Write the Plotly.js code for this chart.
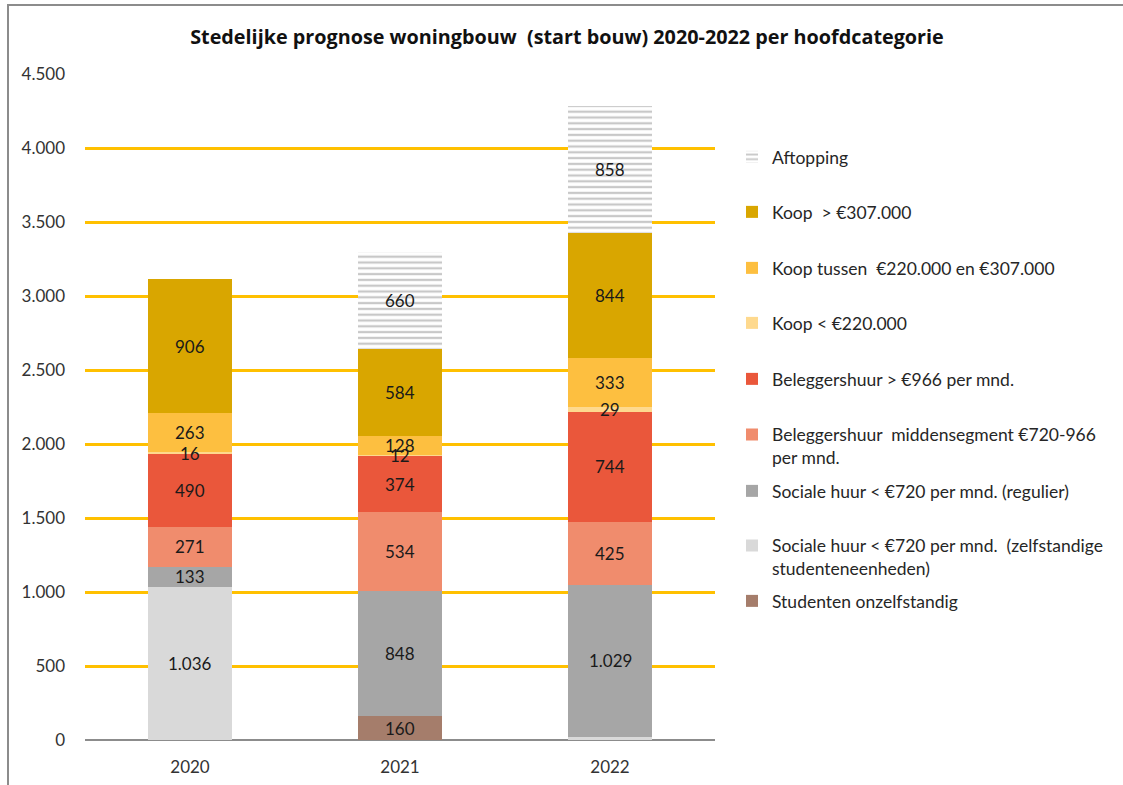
<!DOCTYPE html>
<html><head><meta charset="utf-8">
<script src="https://cdn.plot.ly/plotly-3.0.1.min.js"></script>
<style>html,body{margin:0;padding:0;background:#fff}#chart{width:1123px;height:785px}</style>
</head><body><div id="chart"></div>
<script>
// ---- data ----
const years = ['2020', '2021', '2022'];
const studentenOnzelfstandig = [0, 160, 0];
const socialeStudenten = [1036, 0, 20];
const socialeRegulier = [133, 848, 1029];
const beleggersMidden = [271, 534, 425];
const beleggersHoog = [490, 374, 744];
const koopLaag = [16, 12, 29];
const koopMidden = [263, 128, 333];
const koopHoog = [906, 584, 844];
const aftopping = [0, 660, 858];
const yTicks = [0, 500, 1000, 1500, 2000, 2500, 3000, 3500, 4000, 4500];

const names = [
  'Studenten onzelfstandig',
  'Sociale huur < €720 per mnd.  (zelfstandige<br>studenteneenheden)',
  'Sociale huur < €720 per mnd. (regulier)',
  'Beleggershuur  middensegment €720-966<br>per mnd.',
  'Beleggershuur > €966 per mnd.',
  'Koop < €220.000',
  'Koop tussen  €220.000 en €307.000',
  'Koop  > €307.000',
  'Aftopping'
];
const values = [studentenOnzelfstandig, socialeStudenten, socialeRegulier, beleggersMidden,
  beleggersHoog, koopLaag, koopMidden, koopHoog, aftopping];
const colors = ['#A57D6B', '#D9D9D9', '#A6A6A6', '#F08C6D', '#EA573B', '#FED98E', '#FDBF40', '#D9A600', '#FFFFFF'];
// labels not printed in the reference (index of series, index of year)
const unlabeled = [[1, 2]];

// legend text centre (first line) in pixels, for layout only
const legendPx = [601, 546, 491, 435, 379, 323, 268, 212, 157];

const fmt = v => String(v).replace(/\B(?=(\d{3})+(?!\d))/g, '.');
const plotTop = 74, plotBottom = 740, plotLeft = 85, plotRight = 715;
const pH = plotBottom - plotTop, pW = plotRight - plotLeft;
const FONT = 'Lato, "Open Sans", sans-serif';

const traces = values.map((vals, i) => {
  const t = {
    type: 'bar',
    name: names[i],
    x: years,
    y: vals,
    marker: {color: colors[i], line: {width: 0}},
    hoverinfo: 'x+y+name',
    legend: i === 0 ? 'legend' : 'legend' + (i + 1)
  };
  if (names[i] === 'Aftopping') {
    t.marker.pattern = {shape: '-', fgcolor: '#929292', bgcolor: '#FFFFFF', size: 5.8, solidity: 0.4, fillmode: 'overlay'};
  }
  return t;
});

// value labels above all bars (centre of each stacked segment); x = category index
const base = years.map(() => 0);
const annotations = [];
values.forEach((vals, i) => {
  vals.forEach((v, j) => {
    if (v > 0 && !unlabeled.some(u => u[0] === i && u[1] === j)) {
      annotations.push({
        x: j, y: base[j] + v / 2, xref: 'x', yref: 'y', text: fmt(v),
        showarrow: false, xanchor: 'center', yanchor: 'middle',
        font: {family: FONT, size: 17, color: '#1a1a1a'}
      });
    }
    base[j] += v;
  });
});

const layout = {
  width: 1123, height: 785,
  margin: {l: plotLeft, r: 1123 - plotRight, t: plotTop, b: 785 - plotBottom},
  paper_bgcolor: '#fff', plot_bgcolor: '#fff',
  separators: ',.',
  barmode: 'stack',
  bargap: 0.6,
  font: {family: FONT, size: 16, color: '#333'},
  title: {
    text: '<b>Stedelijke prognose woningbouw \u00a0(start bouw) 2020-2022 per hoofdcategorie</b>',
    font: {family: '"Open Sans", sans-serif', size: 19.8, color: '#111'},
    x: 567 / 1123, xanchor: 'center', xref: 'container',
    y: 1 - 37 / 785, yanchor: 'middle', yref: 'container'
  },
  xaxis: {
    type: 'category', showgrid: false, zeroline: false, showline: false,
    ticks: '', tickfont: {family: FONT, size: 17, color: '#333'}, ticklabelstandoff: 15
  },
  yaxis: {
    range: [0, 4500], tickvals: yTicks, tickformat: ',', showgrid: true,
    gridcolor: '#FFC000', gridwidth: 3, zeroline: true, zerolinecolor: '#8C8C8C', zerolinewidth: 2,
    showline: false, ticks: '', tickfont: {family: FONT, size: 17, color: '#333'}, ticklabelstandoff: 19
  },
  showlegend: true,
  annotations: annotations,
  shapes: [{
    type: 'rect', xref: 'paper', yref: 'paper',
    x0: (8 - plotLeft) / pW, x1: (1130 - plotLeft) / pW,
    y0: (plotBottom - 790) / pH, y1: (plotBottom - 5) / pH,
    line: {color: '#8C8C8C', width: 2}, fillcolor: 'rgba(0,0,0,0)', layer: 'below'
  }]
};

legendPx.forEach((px, i) => {
  const key = i === 0 ? 'legend' : 'legend' + (i + 1);
  const twoLine = names[i].indexOf('<br>') >= 0;
  layout[key] = {
    x: (732 - plotLeft) / pW, xanchor: 'left', xref: 'paper',
    y: (plotBottom - (twoLine ? px + 11 : px)) / pH, yanchor: 'middle', yref: 'paper',
    bgcolor: 'rgba(0,0,0,0)', borderwidth: 0,
    font: {family: FONT, size: 17.5, color: '#262626'},
    valign: 'top', itemclick: false, itemdoubleclick: false
  };
});

Plotly.newPlot('chart', traces, layout, {displayModeBar: false, staticPlot: true});
</script></body></html>
